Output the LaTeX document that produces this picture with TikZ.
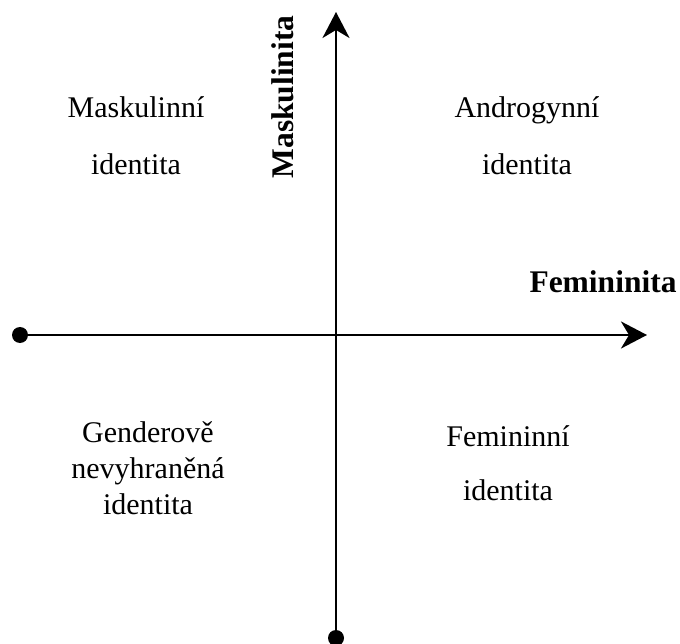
\documentclass[tikz,border=0pt]{standalone}
\usepackage{fontspec}
\setmainfont{Liberation Serif}
\usetikzlibrary{arrows.meta}
\begin{document}
\begin{tikzpicture}[x=1pt,y=-1pt,
  axis/.style={line width=2.5pt,-{Stealth[length=26pt,width=27pt,inset=8pt]}},
  enddot/.style={circle,fill=black,inner sep=0pt,minimum size=16pt},
  quad/.style={anchor=base,inner sep=0pt,font=\fontsize{30}{36}\selectfont},
  axislabel/.style={inner sep=0pt,font=\fontsize{31.5}{36}\selectfont\bfseries}]
\useasboundingbox (0,0) rectangle (680,644);
% axis end points
\node[enddot] (xstart) at (20,335) {};
\node[enddot] (ystart) at (336,638) {};
\coordinate (xend) at (647,335);
\coordinate (yend) at (336,12);
% axes
\draw[axis] (xstart.center) -- (xend);
\draw[axis] (ystart.center) -- (yend);
% axis labels
\node[axislabel,anchor=base] (fem) at (603,293) {Femininita};
\node[axislabel,rotate=90] (mask) at (283,97) {Maskulinita};
% quadrant labels
\node[quad] (tl1) at (136,118) {Maskulinní};
\node[quad] (tl2) at (136,175) {identita};
\node[quad] (tr1) at (527,118) {Androgynní};
\node[quad] (tr2) at (527,175) {identita};
\node[quad] (bl1) at (148,442) {Genderově};
\node[quad] (bl2) at (148,478) {nevyhraněná};
\node[quad] (bl3) at (148,514) {identita};
\node[quad] (br1) at (508,446) {Femininní};
\node[quad] (br2) at (508,500) {identita};
\end{tikzpicture}
\end{document}
